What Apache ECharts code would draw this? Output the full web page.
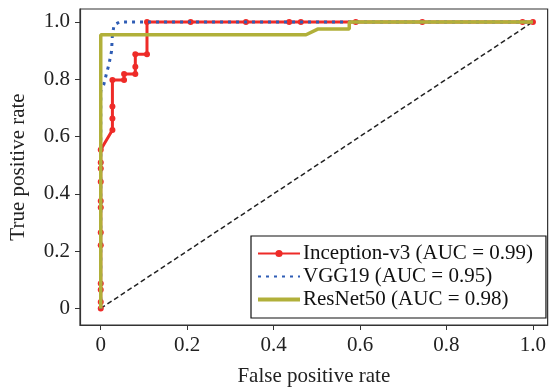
<!DOCTYPE html>
<html>
<head>
<meta charset="utf-8">
<script src="https://cdn.jsdelivr.net/npm/echarts@6/dist/echarts.min.js"></script>
<style>
  html, body { margin: 0; padding: 0; background: #fff; }
  #chart { width: 549px; height: 392px; }
</style>
</head>
<body>
<div id="chart"></div>
<script>
// ROC points
const inceptionFpr = [0, 0, 0, 0, 0, 0, 0, 0, 0, 0, 0, 0, 0.027, 0.027, 0.027, 0.027, 0.054, 0.054, 0.080, 0.080, 0.080, 0.107, 0.107, 0.208, 0.336, 0.436, 0.463, 0.590, 0.744, 0.976, 1.0];
const inceptionTpr = [0, 0.022, 0.065, 0.087, 0.220, 0.265, 0.352, 0.375, 0.442, 0.488, 0.509, 0.554, 0.623, 0.663, 0.705, 0.797, 0.797, 0.818, 0.818, 0.843, 0.887, 0.887, 1.0, 1.0, 1.0, 1.0, 1.0, 1.0, 1.0, 1.0, 1.0];

const vggFpr = [0, 0, 0.007, 0.013, 0.019, 0.025, 0.027, 0.031, 0.044, 1.0];
const vggTpr = [0, 0.76, 0.781, 0.818, 0.852, 0.898, 0.955, 0.99, 1.0, 1.0];

const resnetFpr = [0, 0, 0.475, 0.502, 0.575, 0.575, 1.0];
const resnetTpr = [0, 0.955, 0.955, 0.975, 0.975, 1.0, 1.0];

const chanceFpr = [0, 1];
const chanceTpr = [0, 1];

const tickValues = [0, 0.2, 0.4, 0.6, 0.8, 1.0];

const seriesNames = ["Inception-v3 (AUC = 0.99)", "VGG19 (AUC = 0.95)", "ResNet50 (AUC = 0.98)"];

function zip(xs, ys) {
  return xs.map((x, i) => [x, ys[i]]);
}

const font = "'Liberation Serif', 'Times New Roman', serif";
const axisColor = "#333";

function fmt(v) {
  return v === 0 ? "0" : v.toFixed(1);
}

const chart = echarts.init(document.getElementById("chart"), null, { renderer: "canvas" });

chart.setOption({
  animation: false,
  backgroundColor: "#fff",
  grid: {
    left: 78,
    right: 1,
    top: 9,
    bottom: 62,
    show: true,
    borderColor: axisColor,
    borderWidth: 1.2,
    containLabel: false
  },
  legend: {
    orient: "vertical",
    left: 251,
    top: 236,
    padding: [6, 13, 7, 5],
    itemGap: 0,
    itemWidth: 42,
    itemHeight: 9,
    borderColor: "#111",
    borderWidth: 1.2,
    borderRadius: 0,
    backgroundColor: "#fff",
    textStyle: {
      fontFamily: font,
      fontSize: 21,
      color: "#111",
      lineHeight: 23,
      padding: [0, 0, 0, -2]
    },
    data: [
      { name: seriesNames[0] },
      // line-only icons: hide the default marker dot
      { name: seriesNames[1], itemStyle: { opacity: 0 } },
      { name: seriesNames[2], itemStyle: { opacity: 0 }, lineStyle: { width: 4 } }
    ]
  },
  xAxis: {
    type: "value",
    min: -0.048,
    max: 1.034,
    name: "False positive rate",
    nameLocation: "middle",
    nameGap: 41,
    nameTextStyle: { fontFamily: font, fontSize: 21, color: "#222" },
    axisLine: { onZero: false, lineStyle: { color: axisColor, width: 1.2 } },
    axisTick: { show: true, length: 5, customValues: tickValues, lineStyle: { color: axisColor } },
    axisLabel: {
      customValues: tickValues,
      formatter: fmt,
      margin: 10,
      fontFamily: font,
      fontSize: 21,
      color: "#222"
    },
    splitLine: { show: false }
  },
  yAxis: {
    type: "value",
    min: -0.058,
    max: 1.045,
    name: "True positive rate",
    nameLocation: "middle",
    nameGap: 51,
    nameTextStyle: { fontFamily: font, fontSize: 21, color: "#222" },
    axisLine: { onZero: false, lineStyle: { color: axisColor, width: 1.2 } },
    axisTick: { show: true, length: 5, customValues: tickValues, lineStyle: { color: axisColor } },
    axisLabel: {
      customValues: tickValues,
      formatter: fmt,
      margin: 10,
      fontFamily: font,
      fontSize: 21,
      color: "#222"
    },
    splitLine: { show: false }
  },
  series: [
    {
      name: seriesNames[0],
      type: "line",
      data: zip(inceptionFpr, inceptionTpr),
      symbol: "circle",
      symbolSize: 6,
      showSymbol: true,
      z: 2,
      lineStyle: { color: "#ee2b28", width: 3 },
      itemStyle: { color: "#ee2b28" }
    },
    {
      name: seriesNames[1],
      type: "line",
      data: zip(vggFpr, vggTpr),
      symbol: "none",
      z: 3,
      lineStyle: { color: "#2f5db5", width: 3, type: [3, 5] },
      itemStyle: { color: "#2f5db5" }
    },
    {
      name: seriesNames[2],
      type: "line",
      data: zip(resnetFpr, resnetTpr),
      symbol: "none",
      z: 4,
      lineStyle: { color: "#b1b03a", width: 3.5 },
      itemStyle: { color: "#b1b03a" }
    },
    {
      name: "chance",
      type: "line",
      data: zip(chanceFpr, chanceTpr),
      symbol: "none",
      z: 1,
      lineStyle: { color: "#222", width: 1.5, type: [5, 3] },
      itemStyle: { color: "#222" }
    }
  ]
});
</script>
</body>
</html>
